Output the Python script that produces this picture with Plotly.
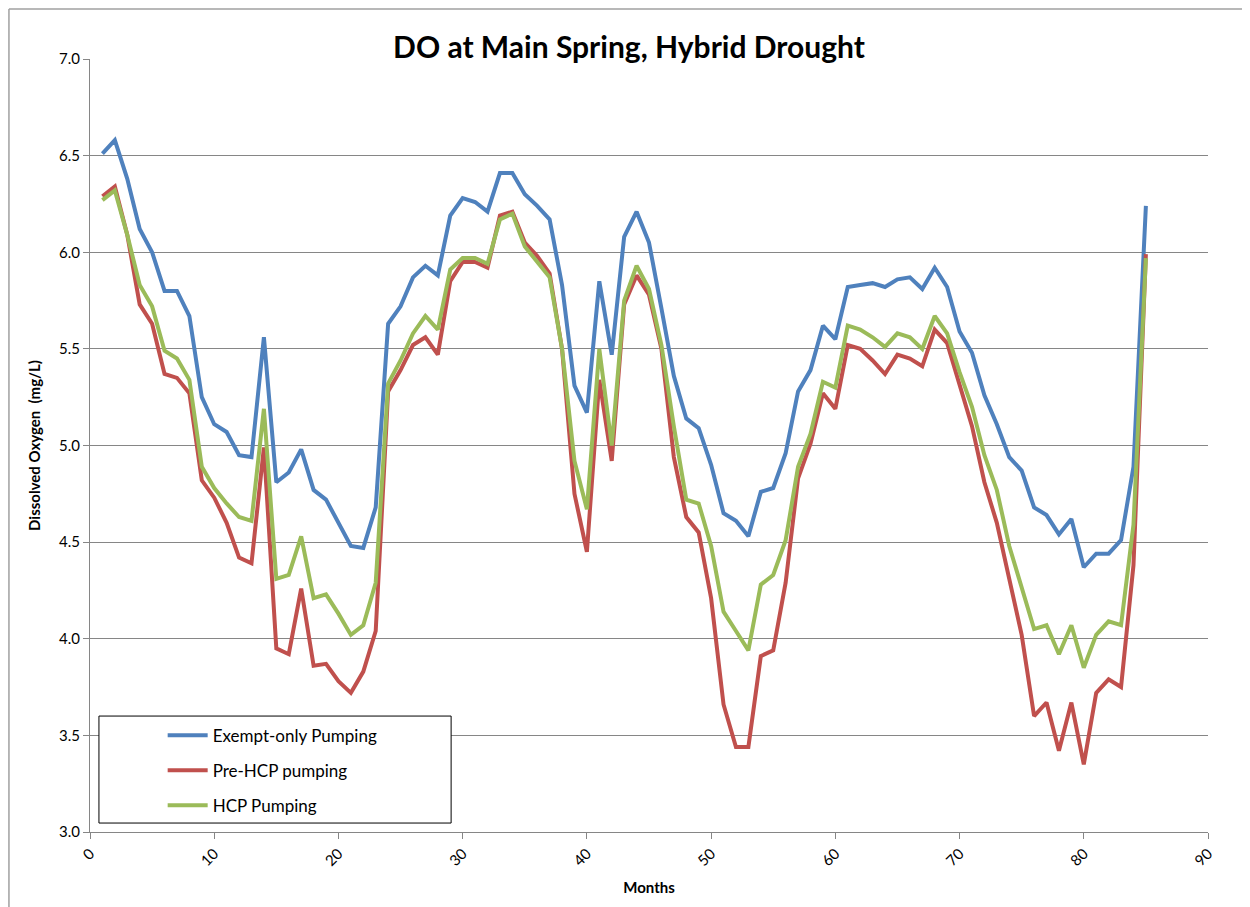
import plotly.graph_objects as go

months = list(range(1, 86))

exempt_only = [
    6.51, 6.58, 6.38, 6.12, 6.00, 5.80, 5.80, 5.67, 5.25, 5.11,
    5.07, 4.95, 4.94, 5.56, 4.81, 4.86, 4.98, 4.77, 4.72, 4.60,
    4.48, 4.47, 4.68, 5.63, 5.72, 5.87, 5.93, 5.88, 6.19, 6.28,
    6.26, 6.21, 6.41, 6.41, 6.30, 6.24, 6.17, 5.83, 5.31, 5.17,
    5.85, 5.47, 6.08, 6.21, 6.05, 5.71, 5.36, 5.14, 5.09, 4.90,
    4.65, 4.61, 4.53, 4.76, 4.78, 4.96, 5.28, 5.39, 5.62, 5.55,
    5.82, 5.83, 5.84, 5.82, 5.86, 5.87, 5.81, 5.92, 5.82, 5.59,
    5.48, 5.26, 5.11, 4.94, 4.87, 4.68, 4.64, 4.54, 4.62, 4.37,
    4.44, 4.44, 4.51, 4.89, 6.24,
]

pre_hcp = [
    6.29, 6.34, 6.09, 5.73, 5.63, 5.37, 5.35, 5.27, 4.82, 4.73,
    4.60, 4.42, 4.39, 4.99, 3.95, 3.92, 4.26, 3.86, 3.87, 3.78,
    3.72, 3.83, 4.04, 5.28, 5.39, 5.52, 5.56, 5.47, 5.85, 5.95,
    5.95, 5.92, 6.19, 6.21, 6.05, 5.98, 5.89, 5.50, 4.75, 4.45,
    5.34, 4.92, 5.73, 5.88, 5.78, 5.50, 4.94, 4.63, 4.55, 4.21,
    3.66, 3.44, 3.44, 3.91, 3.94, 4.29, 4.83, 5.01, 5.27, 5.19,
    5.52, 5.50, 5.44, 5.37, 5.47, 5.45, 5.41, 5.60, 5.53, 5.31,
    5.10, 4.81, 4.60, 4.31, 4.02, 3.60, 3.67, 3.42, 3.67, 3.35,
    3.72, 3.79, 3.75, 4.38, 5.99,
]

hcp = [
    6.27, 6.32, 6.09, 5.83, 5.72, 5.49, 5.45, 5.34, 4.89, 4.78,
    4.70, 4.63, 4.61, 5.19, 4.31, 4.33, 4.53, 4.21, 4.23, 4.13,
    4.02, 4.07, 4.29, 5.32, 5.44, 5.58, 5.67, 5.60, 5.91, 5.97,
    5.97, 5.94, 6.17, 6.20, 6.03, 5.95, 5.87, 5.50, 4.92, 4.67,
    5.50, 5.00, 5.75, 5.93, 5.81, 5.52, 5.10, 4.72, 4.70, 4.48,
    4.14, 4.04, 3.94, 4.28, 4.33, 4.51, 4.89, 5.06, 5.33, 5.30,
    5.62, 5.60, 5.56, 5.51, 5.58, 5.56, 5.50, 5.67, 5.58, 5.38,
    5.20, 4.95, 4.77, 4.48, 4.27, 4.05, 4.07, 3.92, 4.07, 3.85,
    4.02, 4.09, 4.07, 4.59, 5.97,
]

series_names = ["Exempt-only Pumping", "Pre-HCP pumping", "HCP Pumping"]
series_colors = ["#4F81BD", "#C0504D", "#9BBB59"]
x_ticks = [0, 10, 20, 30, 40, 50, 60, 70, 80, 90]
y_ticks = [3.0, 3.5, 4.0, 4.5, 5.0, 5.5, 6.0, 6.5, 7.0]

FONT = "Lato, 'Open Sans', sans-serif"

fig = go.Figure()
for name, vals, col in zip(series_names, [exempt_only, pre_hcp, hcp], series_colors):
    fig.add_trace(go.Scatter(
        x=months, y=vals, mode="lines", name=name, legendgroup=name,
        line=dict(color=col, width=4),
    ))

fig.update_layout(
    width=1242, height=899,
    margin=dict(l=82, r=42, t=51, b=75),
    paper_bgcolor="white", plot_bgcolor="white",
    font=dict(family=FONT, color="#000000", size=15),
    title=dict(text="<b>DO at Main Spring, Hybrid Drought</b>",
               x=0.5, xanchor="center", y=0.956, yanchor="middle",
               font=dict(size=30, family=FONT, color="#000000")),
    showlegend=True,
    legend=dict(x=0.065, y=0.148, xanchor="left", yanchor="top",
                bgcolor="rgba(0,0,0,0)", borderwidth=0,
                tracegroupgap=10, itemwidth=40,
                font=dict(size=17, family=FONT, color="#000000")),
    xaxis=dict(range=[0, 90], tickvals=x_ticks, ticktext=[str(v) for v in x_ticks],
               tickangle=-45, showgrid=False, showline=True, linecolor="#868686",
               linewidth=1, ticks="outside", ticklen=6, tickcolor="#868686",
               zeroline=False, tickfont=dict(size=15, family=FONT),
               title=dict(text="<b>Months</b>", font=dict(size=15, family=FONT), standoff=14)),
    yaxis=dict(range=[3, 7], tickvals=y_ticks, ticktext=[f"{v:.1f}" for v in y_ticks],
               showgrid=True, gridcolor="#868686", gridwidth=1,
               showline=True, linecolor="#868686", linewidth=1,
               ticks="outside", ticklen=6, tickcolor="#868686", zeroline=False,
               tickfont=dict(size=15, family=FONT),
               title=dict(text="<b>Dissolved Oxygen  (mg/L)</b>", font=dict(size=15, family=FONT),
                          standoff=14)),
    shapes=[
        dict(type="rect", xref="paper", yref="paper", x0=0.008, x1=0.323, y0=0.0116, y1=0.150,
             line=dict(color="#000000", width=1), fillcolor="white", layer="above"),
        dict(type="line", xref="paper", yref="paper", x0=-0.0725, x1=1.06, y0=1.0647, y1=1.0647,
             line=dict(color="#A0A0A0", width=1.5), layer="below"),
        dict(type="line", xref="paper", yref="paper", x0=-0.0725, x1=-0.0725, y0=-0.12, y1=1.0647,
             line=dict(color="#A0A0A0", width=1.5), layer="below"),
    ],
)

fig.write_html("out.html")
